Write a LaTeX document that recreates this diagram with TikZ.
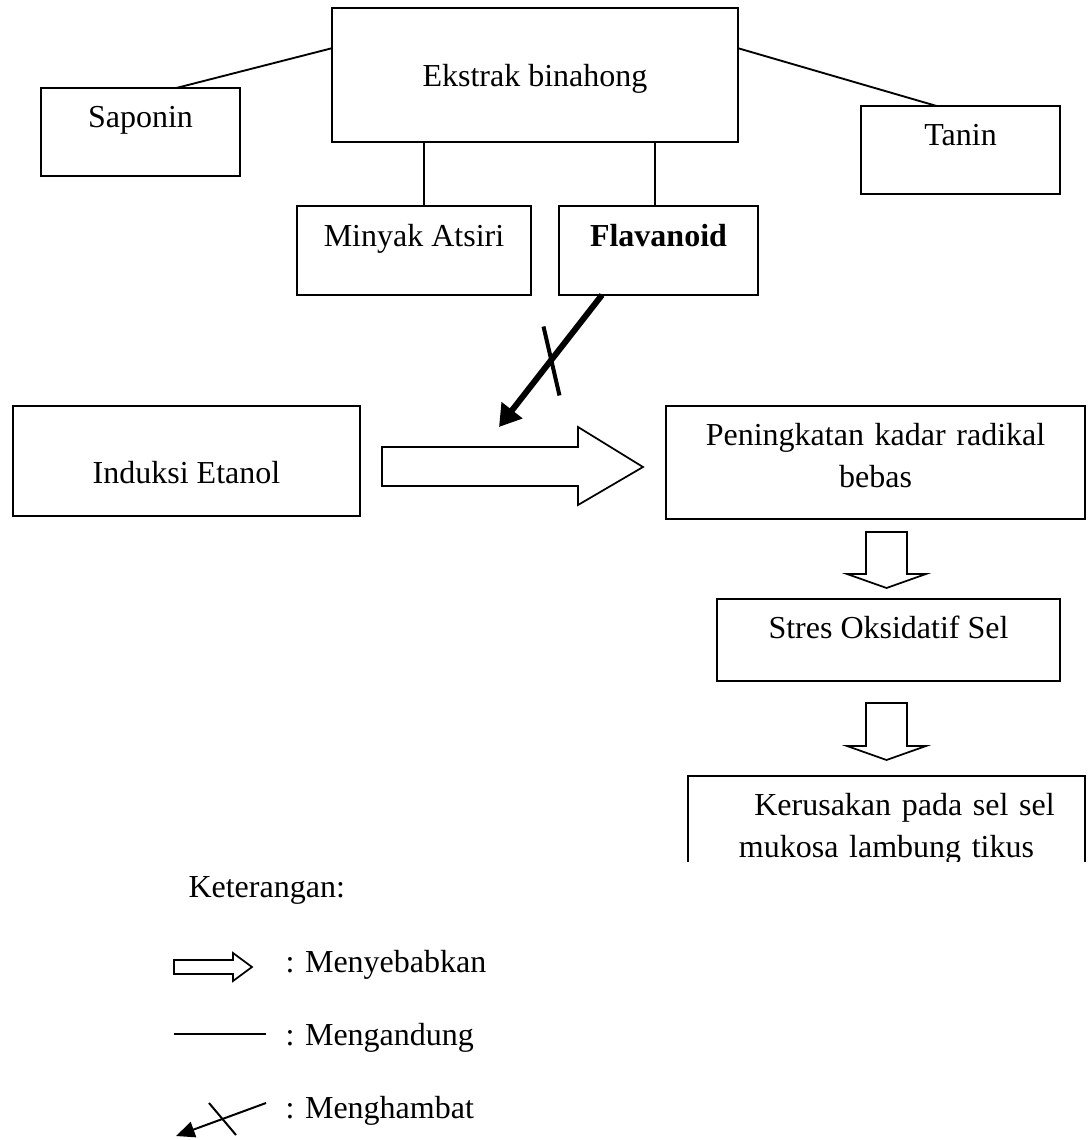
\documentclass[tikz,border=0pt]{standalone}
\usepackage{fontspec}
\setmainfont{Liberation Serif}
\usetikzlibrary{positioning, arrows.meta, calc}
\tikzset{
kotak/.style={draw, line width=0.75pt, inner sep=0pt, outer sep=0pt, anchor=north, font=\fontsize{12pt}{16.1pt}\selectfont}, % kotak untuk setiap komponen
garis/.style={line width=0.7pt}, % garis "mengandung"
panah/.style={line width=0.65pt, line join=miter}, % panah kosong "menyebabkan"
hambat/.style={line width=2.25pt, -{Triangle[length=8pt, width=9.5pt]}}, % panah "menghambat"
silang/.style={line width=1.5pt}, % tanda silang pada panah hambat
keterangan/.style={anchor=base west, inner sep=0pt, font=\fontsize{12pt}{16.1pt}\selectfont}, % teks keterangan
}

\begin{document}
\begin{tikzpicture}[x=0.375pt, y=-0.375pt]
    \useasboundingbox (0,0) rectangle (1087,1140);

    % Kandungan ekstrak
    \node[kotak, minimum width=152.25pt, text height=29.625pt, text depth=20.625pt] (ekstrak) at (535,8) {Ekstrak binahong};
    \node[kotak, minimum width=74.625pt, text height=15pt, text depth=18pt] (saponin) at (140.5,88) {Saponin};
    \node[kotak, minimum width=74.625pt, text height=15pt, text depth=18pt] (tanin) at (960.5,106) {Tanin};
    \node[kotak, minimum width=87.75pt, text height=15.375pt, text depth=18pt] (minyak) at (414,206) {Minyak Atsiri};
    \node[kotak, minimum width=74.625pt, text height=15.375pt, text depth=18pt] (flavanoid) at (658.5,206) {\textbf{Flavanoid}};
    \draw[garis]
    ($(ekstrak.north west)!0.3!(ekstrak.south west)$) -- ($(saponin.north west)!0.68!(saponin.north east)$)
    ($(ekstrak.north east)!0.3!(ekstrak.south east)$) -- ($(tanin.north west)!0.38!(tanin.north east)$)
    ([xshift=3.75pt]minyak.north) -- ([xshift=3.75pt]minyak.north |- ekstrak.south)
    ([xshift=-1.3pt]flavanoid.north) -- ([xshift=-1.3pt]flavanoid.north |- ekstrak.south);

    % Alur kerusakan
    \node[kotak, minimum width=130.125pt, text height=28.875pt, text depth=12.375pt] (induksi) at (186.5,406) {Induksi Etanol};
    \node[kotak, text width=157.125pt, align=center, text height=14.625pt, text depth=27.75pt] (radikal) at (875.5,406) {Peningkatan kadar radikal\\bebas};
    \node[kotak, minimum width=128.625pt, text height=14.625pt, text depth=16.125pt] (stres) at (888.5,599) {Stres Oksidatif Sel};
    \begin{scope}
        \clip (0,0) rectangle (1087,861);
        \node[kotak, text width=148.875pt, align=center, text height=14.625pt, text depth=32pt] (rusak) at (886.5,776) {\hspace*{13.5pt}Kerusakan pada sel sel\\mukosa lambung tikus};
    \end{scope}
    \draw[panah] ($(induksi.east)+(22,-14)$) -- ++(196,0) -- ++(0,-20) -- ++(65,40) -- ++(-65,38) -- ++(0,-19) -- ++(-196,0) -- cycle;
    \draw[panah] ($(radikal.south)+(-9.5,13)$) -- ++(0,42) -- ++(-19,0) -- ++(39.5,14) -- ++(39.5,-14) -- ++(-19,0) -- ++(0,-42) -- cycle;
    \draw[panah] ($(stres.south)+(-22.5,22)$) -- ++(0,43) -- ++(-19,0) -- ++(39.5,14) -- ++(39.5,-14) -- ++(-19,0) -- ++(0,-43) -- cycle;

    % Flavanoid menghambat
    \coordinate (sasaran) at (499,427);
    \draw[hambat] ([xshift=-21.2pt]flavanoid.south) -- coordinate[midway] (tengah) (sasaran);
    \draw[silang] ($(tengah)+(-7,-34.5)$) -- ($(tengah)+(9,34.5)$);

    % Keterangan
    \node[keterangan] (ket) at (188,897) {Keterangan:};
    \node[keterangan] (ket1) at (285,972) {: Menyebabkan};
    \node[keterangan] (ket2) at (285,1045) {: Mengandung};
    \node[keterangan] (ket3) at (285,1118) {: Menghambat};
    \draw[panah] (174,960) -- ++(59,0) -- ++(0,-7) -- ++(19,14) -- ++(-19,14) -- ++(0,-7) -- ++(-59,0) -- cycle;
    \draw[garis] (174,1034) -- (266,1034);
    \draw[line width=0.75pt, -{Triangle[length=7pt, width=6pt]}] (266,1103) -- (176,1136);
    \draw[line width=0.75pt] (209,1103) -- (236,1135);
\end{tikzpicture}
\end{document}
